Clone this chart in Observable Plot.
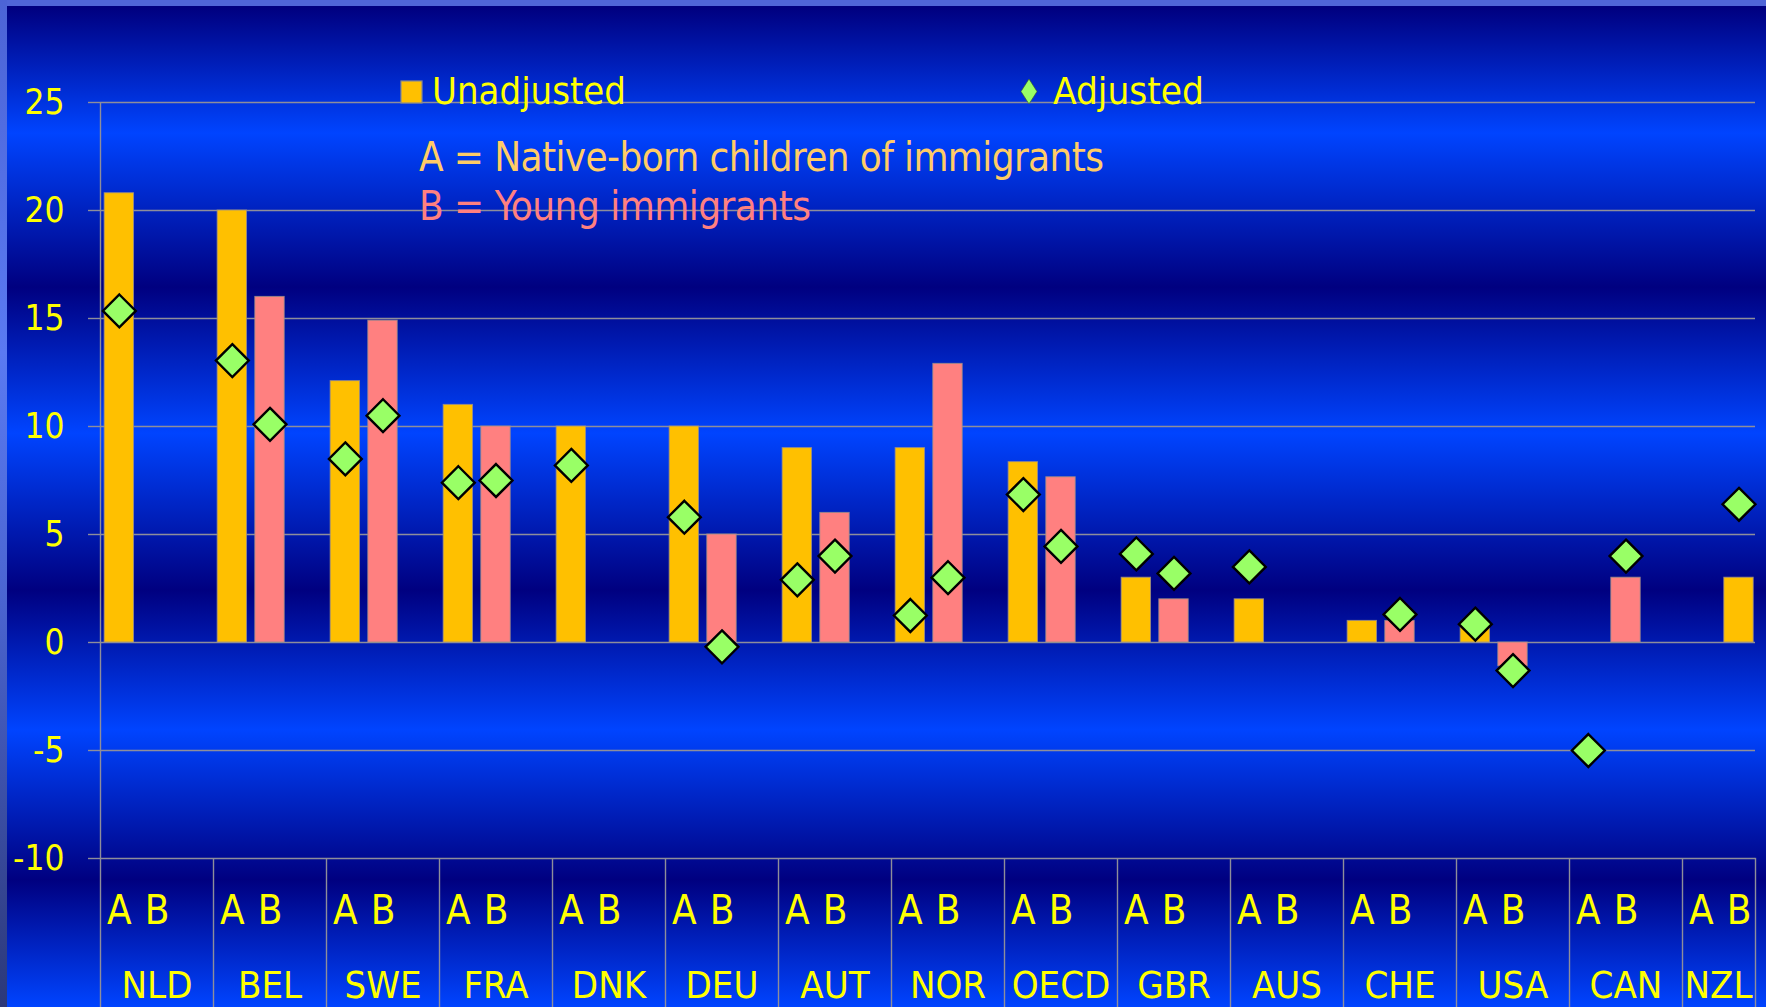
<!DOCTYPE html>
<html>
<head>
<meta charset="utf-8">
<script src="https://cdn.jsdelivr.net/npm/d3@7"></script>
<script src="https://cdn.jsdelivr.net/npm/@observablehq/plot@0.6"></script>
<style>
  html, body { margin: 0; padding: 0; overflow: hidden; background: #000080; }
  #wrap {
    position: relative; width: 1766px; height: 1007px; overflow: hidden;
    background: linear-gradient(to bottom,
      #000080 0px, #000080 8px, #0044ff 133px, #000080 287px, #0044ff 433px,
      #000080 590px, #0044ff 730px, #000080 880px, #0044ff 1007px);
    font-family: "DejaVu Sans Condensed", "DejaVu Sans", sans-serif;
  }
  #topborder { position: absolute; left: 0; top: 0; width: 1766px; height: 6px; background: #4f66d8; }
  #leftborder { position: absolute; left: 0; top: 0; width: 7px; height: 1007px;
    background: linear-gradient(to bottom, #4c64d6, #5a7af2 35%, #4a64d0 60%, #2c3878); }
  #chart, #legend { position: absolute; left: 0; top: 0; }
  #legend { pointer-events: none; }
</style>
</head>
<body>
<div id="wrap">
  <div id="chart"></div>
  <svg id="legend" width="1766" height="1007"></svg>
  <div id="topborder"></div>
  <div id="leftborder"></div>
</div>
<script>
// ---- Data ----
const countries = ["NLD", "BEL", "SWE", "FRA", "DNK", "DEU", "AUT", "NOR", "OECD", "GBR", "AUS", "CHE", "USA", "CAN", "NZL"];
// Unadjusted gap (bars)
const unadjustedA = [20.8, 20.0, 12.1, 11.0, 10.0, 10.0, 9.0, 9.0, 8.35, 3.0, 2.0, 1.0, 0.9, null, 3.0];
const unadjustedB = [null, 16.0, 14.9, 10.0, null, 5.0, 6.0, 12.9, 7.65, 2.0, null, 1.0, -1.1, 3.0, null];
// Adjusted gap (diamonds)
const adjustedA = [15.35, 13.05, 8.5, 7.4, 8.2, 5.8, 2.9, 1.25, 6.85, 4.1, 3.5, null, 0.85, -5.0, 6.4];
const adjustedB = [null, 10.1, 10.5, 7.5, null, -0.2, 4.0, 3.0, 4.45, 3.2, null, 1.3, -1.3, 4.0, null];
const groups = ["A", "B"];
const slotsPerCountry = ["A", "B", "C"]; // third slot is empty, as in the source clustered chart
const yTicks = [25, 20, 15, 10, 5, 0, -5, -10];
const legendSeries = ["Unadjusted", "Adjusted"];
const legendNotes = ["A = Native-born children of immigrants", "B = Young immigrants"];

// In the source chart NZL's (group A) values are drawn in the middle slot.
const slotOf = (c, g) => c + "|" + (c === "NZL" ? "B" : g);

const bars = [], points = [];
countries.forEach((c, i) => {
  if (unadjustedA[i] != null) bars.push({country: c, group: "A", slot: slotOf(c, "A"), value: unadjustedA[i]});
  if (unadjustedB[i] != null) bars.push({country: c, group: "B", slot: slotOf(c, "B"), value: unadjustedB[i]});
  if (adjustedA[i] != null) points.push({country: c, group: "A", slot: slotOf(c, "A"), value: adjustedA[i]});
  if (adjustedB[i] != null) points.push({country: c, group: "B", slot: slotOf(c, "B"), value: adjustedB[i]});
});
const slots = countries.flatMap(c => slotsPerCountry.map(s => c + "|" + s));
const abLabels = countries.flatMap(c => groups.map(g => ({slot: c + "|" + g, label: g})));
const fullCountries = countries.slice(0, -1);   // the last category is cut by the slide edge
const lastCountry = countries.slice(-1);

const FONT = '"DejaVu Sans Condensed", "DejaVu Sans", sans-serif';
const W = 1766, H = 1007;
const xRange = [100, 1795];           // 15 categories, the last one cut by the slide edge
const step = (xRange[1] - xRange[0]) / slots.length;
const GRID = "#8e8e9a";

const chart = Plot.plot({
  width: W, height: H,
  marginLeft: 100, marginRight: 11, marginTop: 102, marginBottom: 149,
  style: {background: "transparent", fontFamily: FONT, overflow: "visible"},
  x: {type: "band", domain: slots, range: xRange, paddingInner: 0.22, paddingOuter: 0.11, round: false, axis: null},
  y: {domain: [-10, 25], axis: null},
  color: {domain: groups, range: ["#FFC000", "#FF8080"]},
  marks: [
    Plot.gridY(yTicks, {stroke: GRID, strokeOpacity: 1, strokeWidth: 1.4}),
    // left axis line, running down through the label table
    Plot.ruleX([countries[0]], {x: c => c + "|A", dx: -step / 2, stroke: GRID, strokeWidth: 1.4, insetBottom: -149}),
    // category separators in the label table
    Plot.ruleX(countries.slice(1), {x: c => c + "|A", dx: -step / 2, y1: -10, y2: -10, stroke: GRID, strokeWidth: 1.4, insetBottom: -149}),
    Plot.frame({anchor: "right", stroke: GRID, strokeWidth: 1.4, insetTop: 756, insetBottom: -149}),
    Plot.axisY(yTicks, {tickSize: 12, tickPadding: 24, fontSize: 35, fill: "#FFFF00", stroke: GRID, strokeWidth: 1.4,
      tickFormat: d => String(d), label: null}),
    Plot.barY(bars, {x: "slot", y: "value", fill: "group", stroke: "#9a8f8a", strokeWidth: 1, strokeOpacity: 0.8}),
    Plot.dot(points, {x: "slot", y: "value", symbol: "diamond2", r: 14.8, fill: "#99FF66", stroke: "black", strokeWidth: 2.4}),
    Plot.text(abLabels, {x: "slot", text: "label", frameAnchor: "bottom", dy: 53, lineAnchor: "middle",
      fontSize: 40, fill: "#FFFF00"}),
    Plot.text(fullCountries, {x: c => c + "|B", text: c => c, frameAnchor: "bottom", dy: 139, lineAnchor: "bottom",
      fontSize: 38, fill: "#FFFF00"}),
    // last, cut-off category: its label is centred in the visible part of the cell
    Plot.text(lastCountry, {text: c => c, frameAnchor: "bottom-right", textAnchor: "end", dx: -3, dy: 139,
      lineAnchor: "bottom", fontSize: 38, fill: "#FFFF00"})
  ]
});
document.getElementById("chart").appendChild(chart);

// ---- Legend (inside the plot area, top) ----
const lg = d3.select("#legend").style("font-family", FONT);
lg.append("rect").attr("x", 401).attr("y", 81).attr("width", 21).attr("height", 22)
  .attr("fill", "#FFC000").attr("stroke", "#8a8a8a").attr("stroke-width", 1.2);
lg.append("text").attr("x", 432).attr("y", 104).attr("font-size", 38).attr("fill", "#FFFF00")
  .attr("textLength", 194).attr("lengthAdjust", "spacingAndGlyphs").text(legendSeries[0]);
lg.append("path").attr("d", "M1029,79L1037,91.5L1029,104L1021,91.5Z").attr("fill", "#99FF66")
  .attr("stroke", "#3a5a20").attr("stroke-width", 0.6);
lg.append("text").attr("x", 1053).attr("y", 104).attr("font-size", 38).attr("fill", "#FFFF00")
  .attr("textLength", 151).attr("lengthAdjust", "spacingAndGlyphs").text(legendSeries[1]);
lg.append("text").attr("x", 419).attr("y", 171).attr("font-size", 40).attr("fill", "#FFCC66")
  .attr("textLength", 685).attr("lengthAdjust", "spacing").text(legendNotes[0]);
lg.append("text").attr("x", 419).attr("y", 220).attr("font-size", 40).attr("fill", "#FF8080")
  .attr("textLength", 392).attr("lengthAdjust", "spacing").text(legendNotes[1]);
</script>
</body>
</html>
